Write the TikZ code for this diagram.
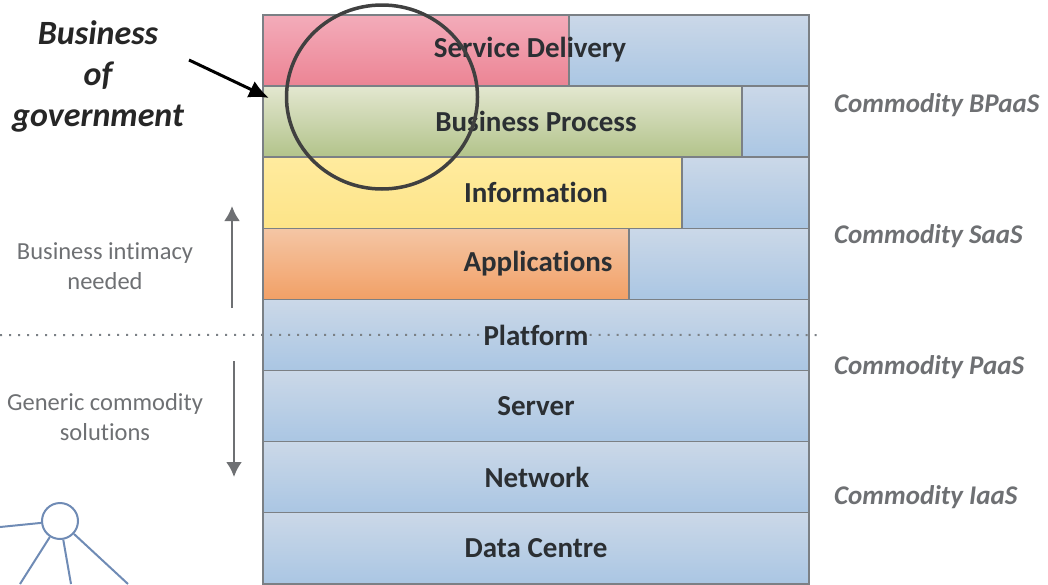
\documentclass[tikz,border=0pt]{standalone}
\usepackage{fontspec}
\setmainfont[Ligatures=NoCommon]{Carlito}
\usepackage{xcolor}
\usetikzlibrary{shapes, arrows.meta, positioning, calc}
\definecolor{rimgray}{HTML}{7B8085}
\definecolor{notegray}{HTML}{6E7073}
\definecolor{inkdark}{HTML}{2B2F33}
\definecolor{netblue}{HTML}{6F8BB5}

\begin{document}
\begin{tikzpicture}[
        x=1pt, y=-1pt,
        node distance=0pt,
        layer/.style={rectangle, draw=rimgray, line width=1.5pt, outer sep=0pt, inner sep=0pt, minimum height=71.1pt},
        blueband/.style={layer, minimum width=546pt, top color={rgb,255:red,203;green,216;blue,232}, bottom color={rgb,255:red,170;green,198;blue,227}},
        redband/.style={layer, top color={rgb,255:red,243;green,172;blue,186}, bottom color={rgb,255:red,236;green,132;blue,148}},
        greenband/.style={layer, top color={rgb,255:red,227;green,231;blue,208}, bottom color={rgb,255:red,178;green,195;blue,138}},
        yellowband/.style={layer, top color={rgb,255:red,255;green,235;blue,158}, bottom color={rgb,255:red,253;green,228;blue,136}},
        orangeband/.style={layer, top color={rgb,255:red,244;green,198;blue,165}, bottom color={rgb,255:red,242;green,160;blue,102}},
        layername/.style={font=\fontsize{29}{34}\selectfont\bfseries, text=inkdark, inner sep=1pt},
        note/.style={font=\fontsize{24.5}{30}\selectfont, text=notegray, align=center},
        commodity/.style={font=\fontsize{27}{30}\selectfont\bfseries\itshape, text=notegray, anchor=west, inner sep=0pt},
        trend/.style={draw=notegray, line width=2.5pt, -{Latex[length=15pt,width=16pt]}},
        netline/.style={draw=netblue, line width=2pt}
    ]
    \useasboundingbox (0,0) rectangle (1048,584);

    \node [blueband, anchor=north west] (delivery) at (263,15) {};
    \node [blueband, below=of delivery] (process) {};
    \node [blueband, below=of process] (information) {};
    \node [blueband, below=of information] (applications) {};
    \node [blueband, below=of applications] (platform) {};
    \node [blueband, below=of platform] (server) {};
    \node [blueband, below=of server] (network) {};
    \node [blueband, below=of network] (datacentre) {};

    \node [redband, minimum width=306pt, anchor=north west] (deliverypart) at (delivery.north west) {};
    \node [greenband, minimum width=479pt, anchor=north west] (processpart) at (process.north west) {};
    \node [yellowband, minimum width=419pt, anchor=north west] (informationpart) at (information.north west) {};
    \node [orangeband, minimum width=366pt, anchor=north west] (applicationspart) at (applications.north west) {};

    \node [layername] (deliveryname) at ($(delivery.center)+(-6,-1)$) {Service Delivery};
    \node [layername] (processname) at (process.center) {Business Process};
    \node [layername] (informationname) at (information.center) {Information};
    \node [layername] (applicationsname) at ($(applications.center)+(2,0)$) {Applications};
    \node [layername] (platformname) at (platform.center) {Platform};
    \node [layername] (servername) at (server.center) {Server};
    \node [layername] (networkname) at ($(network.center)+(1,0)$) {Network};
    \node [layername] (datacentrename) at (datacentre.center) {Data Centre};

    \coordinate (dotleft) at (0,335);
    \coordinate (dotright) at (817,335);
    \path [draw=rimgray, line width=2pt, dash pattern=on 2pt off 7pt] (dotleft) -- (platformname);
    \path [draw=rimgray, line width=2pt, dash pattern=on 2pt off 7pt] (platformname) -- (dotright);

    \node [ellipse, draw=black!75, line width=3.5pt, minimum width=191pt, minimum height=184pt, inner sep=0pt] (focus) at (382,97) {};

    \node [font=\fontsize{34}{41}\selectfont\bfseries\itshape, text=black!85, align=center] (government) at (98,76) {Business\\of\\government};
    \coordinate (focusedge) at (269,98);
    \path [draw=black, line width=3pt, -{Latex[length=20pt,width=18pt]}] (189,60) -- (focusedge);

    \node [note] (intimacy) at (105,266) {Business intimacy\\needed};
    \node [note] (generic) at (105,417) {Generic commodity\\solutions};

    \coordinate (upfoot) at (232,308);
    \coordinate (uphead) at (232,206);
    \coordinate (downfoot) at (234,361);
    \coordinate (downhead) at (234,477);
    \path [trend] (upfoot) -- (uphead);
    \path [trend] (downfoot) -- (downhead);

    \node [commodity] (bpaas) at (834,105) {Commodity BPaaS};
    \node [commodity] (saas) at (834,236) {Commodity SaaS};
    \node [commodity] (paas) at (834,367) {Commodity PaaS};
    \node [commodity] (iaas) at (834,497) {Commodity IaaS};

    \node [circle, draw=netblue, line width=2pt, fill=white, minimum size=36pt, inner sep=0pt] (hub) at (60,521) {};
    \coordinate (spokewest) at (0,527);
    \coordinate (spokesw) at (20,584);
    \coordinate (spokes) at (71,584);
    \coordinate (spokese) at (128,584);
    \path [netline] (hub) -- (spokewest);
    \path [netline] (hub) -- (spokesw);
    \path [netline] (hub) -- (spokes);
    \path [netline] (hub) -- (spokese);

\end{tikzpicture}
\end{document}
